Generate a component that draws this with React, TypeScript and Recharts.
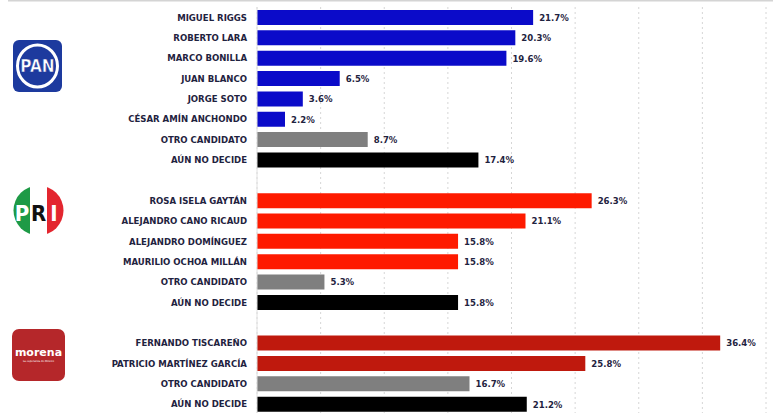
import React from 'react';
import { BarChart, Bar, XAxis, YAxis, CartesianGrid, Cell, LabelList, Customized } from 'recharts';

const panCandidates = ['MIGUEL RIGGS', 'ROBERTO LARA', 'MARCO BONILLA', 'JUAN BLANCO', 'JORGE SOTO', 'CÉSAR AMÍN ANCHONDO', 'OTRO CANDIDATO', 'AÚN NO DECIDE'];
const panValues = [21.7, 20.3, 19.6, 6.5, 3.6, 2.2, 8.7, 17.4];
const priCandidates = ['ROSA ISELA GAYTÁN', 'ALEJANDRO CANO RICAUD', 'ALEJANDRO DOMÍNGUEZ', 'MAURILIO OCHOA MILLÁN', 'OTRO CANDIDATO', 'AÚN NO DECIDE'];
const priValues = [26.3, 21.1, 15.8, 15.8, 5.3, 15.8];
const morenaCandidates = ['FERNANDO TISCAREÑO', 'PATRICIO MARTÍNEZ GARCÍA', 'OTRO CANDIDATO', 'AÚN NO DECIDE'];
const morenaValues = [36.4, 25.8, 16.7, 21.2];
const xTicks = [0, 5, 10, 15, 20, 25, 30, 35, 40];

const partyColors = { PAN: '#0b0bc9', PRI: '#fe1a00', MORENA: '#bf190d' };
const OTHER_COLOR = '#7f7f7f';
const UNDECIDED_COLOR = '#000000';

type Row = { id: string; name: string; value: number | null; color: string };

function buildRows(): Row[] {
  const rows: Row[] = [];
  const add = (party: keyof typeof partyColors, names: string[], values: number[]) => {
    names.forEach((n, i) => {
      let color = partyColors[party];
      if (n === 'OTRO CANDIDATO') color = OTHER_COLOR;
      if (n === 'AÚN NO DECIDE') color = UNDECIDED_COLOR;
      rows.push({ id: `${party}-${i}`, name: n, value: values[i], color });
    });
  };
  add('PAN', panCandidates, panValues);
  rows.push({ id: 'gap-1', name: '', value: null, color: 'none' });
  add('PRI', priCandidates, priValues);
  rows.push({ id: 'gap-2', name: '', value: null, color: 'none' });
  add('MORENA', morenaCandidates, morenaValues);
  return rows;
}

const data = buildRows();
const nameById: Record<string, string> = {};
data.forEach((r) => (nameById[r.id] = r.name));

const FONT = '"Liberation Sans Narrow", "DejaVu Sans Condensed", Arial, sans-serif';
const TEXT_COLOR = '#1f2340';

const CategoryTick = (props: any) => {
  const { x, y, payload } = props;
  return (
    <text x={x - 2} y={y} dy={3.5} textAnchor="end" fontFamily={FONT} fontWeight={700} fontSize={9.5} fill={TEXT_COLOR}>
      {nameById[payload.value]}
    </text>
  );
};

const Logos = () => (
  <g>
    <line x1={8} y1={0.5} x2={773} y2={0.5} stroke="#d4d4d4" strokeWidth={2} />
    {/* PAN */}
    <rect x={13} y={40} width={49} height={52} rx={6} fill="#1d3a9e" />
    <ellipse cx={37.5} cy={66} rx={20} ry={21} fill="none" stroke="#ffffff" strokeWidth={3} />
    <text x={37.5} y={72} textAnchor="middle" fontFamily={FONT} fontWeight={700} fontSize={17} fill="#ffffff" stroke="#1d3a9e" strokeWidth={0.5}>PAN</text>
    {/* PRI */}
    <clipPath id="priClip">
      <circle cx={38.5} cy={210.5} r={25} />
    </clipPath>
    <g clipPath="url(#priClip)">
      <rect x={13} y={185} width={17} height={51} fill="#1e9a46" />
      <rect x={30} y={185} width={17} height={51} fill="#ffffff" />
      <rect x={47} y={185} width={17} height={51} fill="#e3262f" />
    </g>
    <text x={22} y={221} textAnchor="middle" fontFamily={FONT} fontWeight={700} fontSize={22} fill="#ffffff">P</text>
    <text x={38.5} y={221} textAnchor="middle" fontFamily={FONT} fontWeight={700} fontSize={22} fill="#111111">R</text>
    <text x={54} y={221} textAnchor="middle" fontFamily={FONT} fontWeight={700} fontSize={22} fill="#ffffff">I</text>
    {/* MORENA */}
    <rect x={12} y={329} width={53} height={52} rx={7} fill="#b5272a" />
    <text x={38.5} y={356} textAnchor="middle" fontFamily="'DejaVu Sans', sans-serif" fontWeight={700} fontSize={11} fill="#ffffff">morena</text>
    <text x={38.5} y={362} textAnchor="middle" fontFamily="'DejaVu Sans', sans-serif" fontSize={2.6} fill="#ffffff">La esperanza de México</text>
  </g>
);

export default function App() {
  return (
    <div style={{ position: 'absolute', left: 0, top: 0, width: 773, height: 413, overflow: 'hidden', background: '#ffffff' }}>
      <BarChart
        width={773}
        height={415}
        data={data}
        layout="vertical"
        margin={{ top: 7, right: 7, bottom: 1, left: 0 }}
        barCategoryGap={5}
      >
        <CartesianGrid horizontal={false} vertical={true} stroke="#d6d6d6" strokeDasharray="2 3" />
        <XAxis type="number" domain={[0, 40]} ticks={xTicks} hide />
        <YAxis
          type="category"
          dataKey="id"
          width={257}
          tickLine={false}
          axisLine={{ stroke: '#e0e0e0' }}
          tick={<CategoryTick />}
          interval={0}
        />
        <Bar dataKey="value" barSize={15} isAnimationActive={false}>
          {data.map((r) => (
            <Cell key={r.id} fill={r.color} />
          ))}
          <LabelList
            dataKey="value"
            position="right"
            offset={6}
            formatter={(v: any) => (v == null ? '' : `${v}%`)}
            style={{ fontFamily: FONT, fontWeight: 700, fontSize: 9.5, fill: TEXT_COLOR }}
          />
        </Bar>
        <Customized component={Logos} />
      </BarChart>
    </div>
  );
}
